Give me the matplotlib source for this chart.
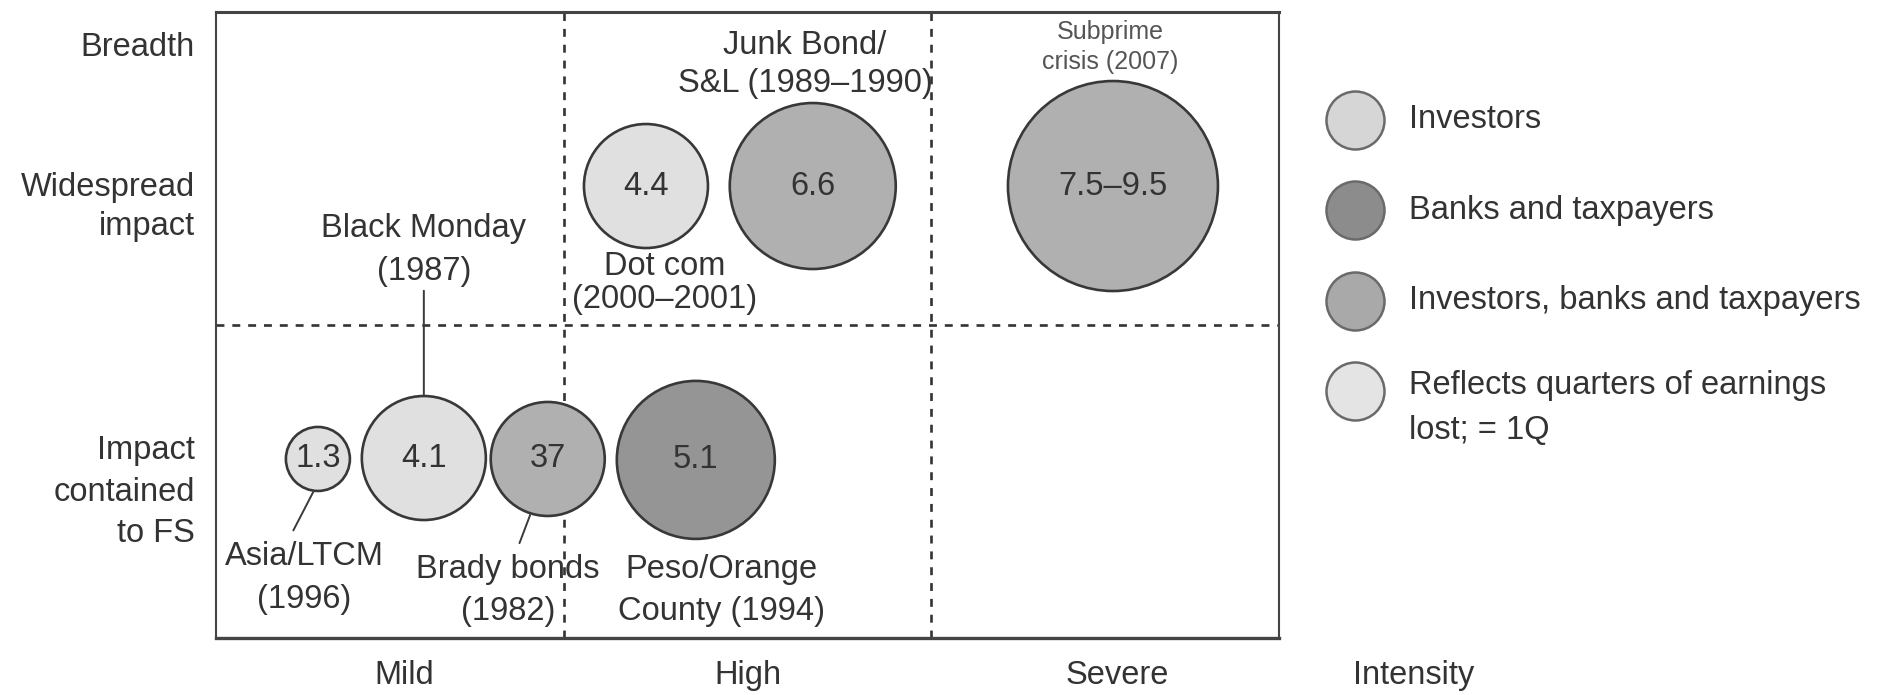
import matplotlib
matplotlib.use("Agg")
import matplotlib.pyplot as plt

plt.rcParams['font.family'] = ['Liberation Sans', 'DejaVu Sans']

# --- data ---
values = ["1.3", "4.1", "37", "5.1", "4.4", "6.6", "7.5\u20139.5"]
events = ["Asia/LTCM\n(1996)", "Black Monday\n(1987)", "Brady bonds\n(1982)",
          "Peso/Orange\nCounty (1994)", "Dot com\n(2000\u20132001)",
          "Junk Bond/\nS&L (1989\u20131990)", "Subprime\ncrisis (2007)"]
bearer = ["Investors", "Investors", "Investors, banks and taxpayers",
          "Banks and taxpayers", "Investors", "Investors, banks and taxpayers",
          "Investors, banks and taxpayers"]
intensity = [0.328, 0.617, 0.955, 1.359, 1.223, 1.678, 2.497]
breadth = [0.572, 0.575, 0.572, 0.569, 1.444, 1.444, 1.444]
bubble_r = [32, 62, 57, 79, 62, 83, 105]   # radius in px

col_labels = ["Mild", "High", "Severe"]
row_labels = ["Breadth", "Widespread\nimpact", "Impact\ncontained\nto FS"]
legend_labels = ["Investors", "Banks and taxpayers",
                 "Investors, banks and taxpayers",
                 "Reflects quarters of earnings\nlost; = 1Q"]

# --- styles ---
fills = {"Investors": "#e0e0e0", "Banks and taxpayers": "#959595",
         "Investors, banks and taxpayers": "#b0b0b0"}
legend_fills = ["#d6d6d6", "#8c8c8c", "#a9a9a9", "#e4e4e4"]
txt = "#333333"
FS = 23.5
DPI = 100

fig = plt.figure(figsize=(18.85, 6.95), dpi=DPI)
ax = fig.add_axes([216/1885, 57/695, 1063/1885, 626/695])
ax.set_xlim(0.05, 2.95)
ax.set_ylim(0, 2)
ax.set_xticks([])
ax.set_yticks([])
for s in ax.spines.values():
    s.set_color("#444444")
    s.set_linewidth(1.5)
ax.spines['top'].set_linewidth(2.2)
ax.spines['bottom'].set_linewidth(2.4)

# dividers
dash = dict(color="#333333", lw=1.9, linestyle=(0, (3, 3)), zorder=1)
ax.axvline(1, **dash)
ax.axvline(2, **dash)
ax.axhline(1, **dash)

# bubbles
sizes = [(2 * r * 72 / DPI) ** 2 for r in bubble_r]
ax.scatter(intensity, breadth, s=sizes, c=[fills[b] for b in bearer],
           edgecolors="#383838", linewidths=1.9, zorder=3)
for x, y, v in zip(intensity, breadth, values):
    ax.text(x, y, v, ha="center", va="center", fontsize=FS, color=txt, zorder=4)

# event labels
lab_pos = [(0.290, 0.193), (0.617, 1.241), (0.847, 0.153), (1.430, 0.153),
           (1.275, 1.134), (1.657, 1.832), (2.489, 1.888)]
lab_ls = [1.5, 1.5, 1.45, 1.45, 1.1, 1.28, 1.35]
lab_fs = [FS, FS, FS, FS, FS, FS, 18]
lab_col = [txt] * 6 + ["#555555"]
leaders = {0: ((0.315, 0.466), (0.40, 1)),
           1: ((0.617, 0.760), (0.5, 0)),
           2: ((0.907, 0.393), (0.54, 1))}
for i, (ev, (lx, ly)) in enumerate(zip(events, lab_pos)):
    if i in leaders:
        xy, rp = leaders[i]
        ax.annotate(ev, xy=xy, xytext=(lx, ly), ha="center", va="center",
                    fontsize=lab_fs[i], color=lab_col[i], linespacing=lab_ls[i],
                    zorder=2,
                    arrowprops=dict(arrowstyle="-", color="#3a3a3a", lw=1.4,
                                    relpos=rp, shrinkA=6 if i != 1 else 1,
                                    shrinkB=0))
    else:
        ax.text(lx, ly, ev, ha="center", va="center", fontsize=lab_fs[i],
                color=lab_col[i], linespacing=lab_ls[i], zorder=2)

# row labels (left)
row_y = [1.888, 1.377, 0.466]
row_ls = [1.0, 1.35, 1.45]
for lbl, y, ls in zip(row_labels, row_y, row_ls):
    ax.text(-0.02, y, lbl, transform=ax.get_yaxis_transform(), ha="right",
            va="center", fontsize=FS, color=txt, linespacing=ls)

# column labels (bottom)
col_x = [0.563, 1.501, 2.508]
for lbl, x in zip(col_labels, col_x):
    ax.text(x, -0.121, lbl, ha="center", va="center", fontsize=FS, color=txt,
            clip_on=False)
ax.text(3.318, -0.121, "Intensity", ha="center", va="center", fontsize=FS,
        color=txt, clip_on=False)

# legend, drawn by hand
leg_x, leg_tx = 3.157, 3.304
for i, (lbl, fc) in enumerate(zip(legend_labels, legend_fills)):
    y = 1.655 - 0.289 * i
    ax.scatter([leg_x], [y], s=(2 * 29 * 72 / DPI) ** 2, c=fc,
               edgecolors="#6a6a6a", linewidths=1.8, clip_on=False, zorder=3)
    if "\n" in lbl:
        ax.text(leg_tx, y - 0.053, lbl, ha="left", va="center", fontsize=FS,
                color=txt, linespacing=1.55, clip_on=False)
    else:
        ax.text(leg_tx, y, lbl, ha="left", va="center", fontsize=FS,
                color=txt, clip_on=False)

fig.savefig("out.png", dpi=DPI)
